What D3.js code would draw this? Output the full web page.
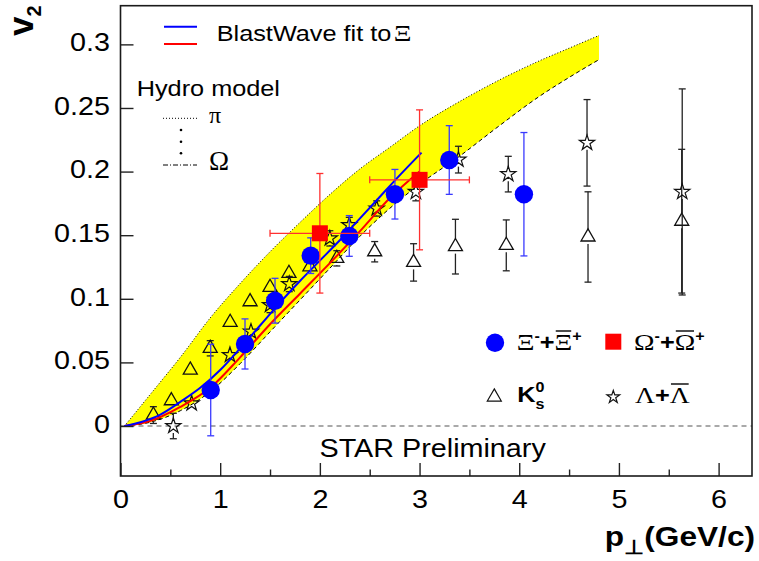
<!DOCTYPE html>
<html>
<head>
<meta charset="utf-8">
<script src="https://cdn.jsdelivr.net/npm/d3@7"></script>
<style>
  body { margin: 0; background: #fff; }
  svg { display: block; }
  text { font-family: "Liberation Sans", Arial, Helvetica, sans-serif; fill: #000; }
  .gr { font-family: "Liberation Serif", "Times New Roman", serif; }
</style>
</head>
<body>
<svg id="chart" width="759" height="561"></svg>
<script>
// hydro model band (pi = upper edge, Omega = lower edge)
const bandPt    = [0.04, 0.3, 0.6, 0.9, 1.2, 1.5, 1.8, 2.1, 2.4, 2.7, 3.0, 3.4, 3.8, 4.2, 4.5, 4.8];
const bandPi    = [0, 0.025, 0.054, 0.085, 0.112, 0.137, 0.160, 0.182, 0.202, 0.219, 0.236, 0.255, 0.272, 0.287, 0.297, 0.307];
const bandOmega = [0, 0.003, 0.012, 0.027, 0.049, 0.074, 0.099, 0.124, 0.149, 0.171, 0.190, 0.212, 0.236, 0.259, 0.274, 0.288];

// blast wave fits
const bwBluePt = [0.04, 0.2, 0.4, 0.6, 0.8, 1.0, 1.2, 1.4, 1.6, 1.8, 2.0, 2.2, 2.4, 2.6, 2.8, 3.02];
const bwBlue   = [0, 0.003, 0.009, 0.019, 0.030, 0.044, 0.061, 0.079, 0.097, 0.114, 0.130, 0.146, 0.163, 0.180, 0.197, 0.2149];
const bwRedPt  = [0.04, 0.3, 0.6, 0.9, 1.2, 1.5, 1.8, 2.1, 2.4, 2.7, 3.0];
const bwRed    = [0, 0.004, 0.015, 0.030, 0.054, 0.080, 0.104, 0.128, 0.153, 0.179, 0.200];

// Xi
const xiPt  = [0.905, 1.249, 1.55, 1.908, 2.295, 2.753, 3.298, 4.047];
const xiV2  = [0.0283, 0.0645, 0.0985, 0.1339, 0.1494, 0.1822, 0.2091, 0.1822];
const xiErr = [0.036, 0.0197, 0.0176, 0.014, 0.016, 0.0195, 0.027, 0.0485];

// Omega
const omPt    = [2.0, 3.0];
const omV2    = [0.1515, 0.1935];
const omErr   = [0.047, 0.055];
const omPtErr = [0.5, 0.5];

// K0s
const k0Pt  = [0.33, 0.51, 0.70, 0.90, 1.10, 1.30, 1.50, 1.69, 1.90, 2.17, 2.55, 2.94, 3.36, 3.87, 4.69, 5.63];
const k0V2  = [0.0086, 0.0199, 0.044, 0.0611, 0.0815, 0.0977, 0.109, 0.12, 0.1252, 0.1318, 0.137, 0.1286, 0.141, 0.142, 0.1486, 0.161];
const k0Err = [0.0066, 0.005, 0.004, 0.006, 0.005, 0.005, 0.005, 0.005, 0.005, 0.006, 0.008, 0.0147, 0.0215, 0.02, 0.0355, 0.0565];

// Lambda
const laPt  = [0.53, 0.714, 1.098, 1.309, 1.50, 1.693, 2.10, 2.295, 2.57, 2.963, 3.39, 3.89, 4.68, 5.635];
const laV2  = [0.0, 0.0178, 0.0558, 0.0742, 0.0951, 0.1116, 0.1475, 0.158, 0.171, 0.184, 0.2094, 0.198, 0.2226, 0.184];
const laErr = [0.01, 0.005, 0.005, 0.005, 0.006, 0.006, 0.006, 0.006, 0.006, 0.007, 0.0105, 0.014, 0.034, 0.081];

const xTicks = [0, 1, 2, 3, 4, 5, 6];
const xMinor = [0.5, 1.5, 2.5, 3.5, 4.5, 5.5];
const yTicks = [0, 0.05, 0.1, 0.15, 0.2, 0.25, 0.3];

const svg = d3.select("#chart");
const x = d3.scaleLinear().domain([0, 6.335]).range([120.5, 752]);
const y = d3.scaleLinear().domain([-0.0393, 0.3304]).range([476, 5.7]);

// text in the picture is a bit wider than the font
const SX = 1.15;
function wide(g, x0) {
  return g.attr("transform", `matrix(${SX},0,0,1,${(1 - SX) * x0},0)`);
}

// band
const area = d3.area()
  .x((d, i) => x(bandPt[i]))
  .y0((d, i) => y(bandOmega[i]))
  .y1((d, i) => y(bandPi[i]))
  .curve(d3.curveMonotoneX);
svg.append("path").datum(bandPt).attr("d", area).attr("fill", "#ffff00");

function curve(px, py) {
  return d3.line().x((d, i) => x(px[i])).y((d, i) => y(py[i])).curve(d3.curveMonotoneX)(px);
}
svg.append("path").attr("d", curve(bandPt, bandPi))
  .attr("fill", "none").attr("stroke", "#000").attr("stroke-width", 1).attr("stroke-dasharray", "1,2");
svg.append("path").attr("d", curve(bandPt, bandOmega))
  .attr("fill", "none").attr("stroke", "#000").attr("stroke-width", 1).attr("stroke-dasharray", "4,3");

// zero line
svg.append("line")
  .attr("x1", x(0)).attr("x2", x(6.335)).attr("y1", y(0)).attr("y2", y(0))
  .attr("stroke", "#555").attr("stroke-width", 1.2).attr("stroke-dasharray", "5,4");

function errBars(px, py, pe, color, gap, cap) {
  const g = svg.append("g").attr("stroke", color).attr("stroke-width", 1.3).attr("fill", "none");
  px.forEach((p, i) => {
    const cx = x(p), cy = y(py[i]), top = y(py[i] + pe[i]), bot = y(py[i] - pe[i]);
    if (cy - top > gap) {
      g.append("line").attr("x1", cx).attr("x2", cx).attr("y1", top).attr("y2", cy - gap);
      g.append("line").attr("x1", cx - cap).attr("x2", cx + cap).attr("y1", top).attr("y2", top);
    }
    if (bot - cy > gap) {
      g.append("line").attr("x1", cx).attr("x2", cx).attr("y1", cy + gap).attr("y2", bot);
      g.append("line").attr("x1", cx - cap).attr("x2", cx + cap).attr("y1", bot).attr("y2", bot);
    }
  });
}

const triPath = d3.symbol().type(d3.symbolTriangle).size(85)();
const starPath = d3.symbol().type(d3.symbolStar).size(72)();

// K0s
errBars(k0Pt, k0V2, k0Err, "#222", 7, 3.5);
svg.append("g").selectAll("path").data(k0Pt).join("path")
  .attr("d", triPath)
  .attr("transform", (d, i) => `translate(${x(d)},${y(k0V2[i])})`)
  .attr("fill", "none").attr("stroke", "#111").attr("stroke-width", 1.3);

// Lambda
errBars(laPt, laV2, laErr, "#222", 7, 3.5);
svg.append("g").selectAll("path").data(laPt).join("path")
  .attr("d", starPath)
  .attr("transform", (d, i) => `translate(${x(d)},${y(laV2[i])})`)
  .attr("fill", "none").attr("stroke", "#111").attr("stroke-width", 1.2);

// blast wave
svg.append("path").attr("d", curve(bwRedPt, bwRed))
  .attr("fill", "none").attr("stroke", "#ff0000").attr("stroke-width", 2);
svg.append("path").attr("d", curve(bwBluePt, bwBlue))
  .attr("fill", "none").attr("stroke", "#0000ff").attr("stroke-width", 2);

// Xi
errBars(xiPt, xiV2, xiErr, "#3a3aff", 0, 3.5);
svg.append("g").selectAll("circle").data(xiPt).join("circle")
  .attr("cx", d => x(d)).attr("cy", (d, i) => y(xiV2[i])).attr("r", 9.2)
  .attr("fill", "#0000ff");

// Omega
errBars(omPt, omV2, omErr, "#ff3030", 0, 3.5);
const hg = svg.append("g").attr("stroke", "#ff3030").attr("stroke-width", 1.3);
omPt.forEach((p, i) => {
  const cy = y(omV2[i]), l = x(p - omPtErr[i]), r = x(p + omPtErr[i]);
  hg.append("line").attr("x1", l).attr("x2", r).attr("y1", cy).attr("y2", cy);
  hg.append("line").attr("x1", l).attr("x2", l).attr("y1", cy - 3.5).attr("y2", cy + 3.5);
  hg.append("line").attr("x1", r).attr("x2", r).attr("y1", cy - 3.5).attr("y2", cy + 3.5);
});
svg.append("g").selectAll("rect").data(omPt).join("rect")
  .attr("x", d => x(d) - 8).attr("y", (d, i) => y(omV2[i]) - 8)
  .attr("width", 16).attr("height", 16).attr("fill", "#ff0000");

// axes
const yAxis = svg.append("g").attr("transform", `translate(${x(0)},0)`)
  .call(d3.axisLeft(y).tickValues(yTicks).tickSize(-13).tickPadding(10.5).tickFormat(d3.format("")));
const xAxis = svg.append("g").attr("transform", `translate(0,${y.range()[0]})`)
  .call(d3.axisBottom(x).tickValues(xTicks).tickSize(-13).tickPadding(14).tickFormat(d3.format("d")));
svg.append("g").attr("transform", `translate(0,${y.range()[0]})`)
  .call(d3.axisBottom(x).tickValues(xMinor).tickSize(-6.5).tickFormat(""));
svg.selectAll(".domain").remove();
svg.selectAll(".tick line").attr("stroke", "#222").attr("stroke-width", 1.4);
[yAxis, xAxis].forEach(a => a.attr("font-size", null).attr("font-family", null));
svg.selectAll(".tick text").attr("font-size", 25).attr("fill", "#000")
  .each(function () {
    const t = d3.select(this);
    const ax = +t.attr("x") || 0;
    t.attr("transform", `matrix(${SX},0,0,1,${(1 - SX) * ax},0)`);
  });
yAxis.selectAll(".tick text").attr("dy", "0.25em");

// frame
svg.append("rect")
  .attr("x", x(0)).attr("y", y.range()[1])
  .attr("width", x.range()[1] - x(0)).attr("height", y.range()[0] - y.range()[1])
  .attr("fill", "none").attr("stroke", "#1a1a1a").attr("stroke-width", 1.6);

// axis titles
const vt = svg.append("text").attr("transform", "translate(33,36) rotate(-90)")
  .attr("font-weight", "bold").attr("font-size", 35);
vt.append("tspan").text("v");
vt.append("tspan").attr("dy", 8).attr("font-size", 20).text("2");

const pt = wide(svg.append("g"), 755).append("text")
  .attr("x", 755).attr("y", 546).attr("text-anchor", "end")
  .attr("font-weight", "bold").attr("font-size", 27.5);
pt.append("tspan").text("p");
pt.append("tspan").attr("dy", 8).attr("font-size", 20).text("⊥");
pt.append("tspan").attr("dy", -8).text("(GeV/c)");

// legend top
svg.append("line").attr("x1", 164).attr("x2", 197).attr("y1", 26.7).attr("y2", 26.7)
  .attr("stroke", "#0000ff").attr("stroke-width", 2);
svg.append("line").attr("x1", 164).attr("x2", 197).attr("y1", 44).attr("y2", 44)
  .attr("stroke", "#ff0000").attr("stroke-width", 2);
const bw = wide(svg.append("g"), 216.7).append("text")
  .attr("x", 216.7).attr("y", 40.7).attr("font-size", 22);
bw.append("tspan").text("BlastWave fit to");
bw.append("tspan").attr("class", "gr").attr("dx", 2).attr("font-size", 24).text("Ξ");

wide(svg.append("g"), 136.7).append("text")
  .attr("x", 136.7).attr("y", 96).attr("font-size", 22).text("Hydro model");
svg.append("line").attr("x1", 163).attr("x2", 197).attr("y1", 118.3).attr("y2", 118.3)
  .attr("stroke", "#000").attr("stroke-width", 1).attr("stroke-dasharray", "1,2");
[130, 141.7, 153.3].forEach(cy => svg.append("circle").attr("cx", 181).attr("cy", cy).attr("r", 1.3).attr("fill", "#000"));
svg.append("line").attr("x1", 163).attr("x2", 197).attr("y1", 165).attr("y2", 165)
  .attr("stroke", "#000").attr("stroke-width", 1).attr("stroke-dasharray", "5,2,1,2");
svg.append("text").attr("class", "gr").attr("x", 209).attr("y", 123).attr("font-size", 24).text("π");
svg.append("text").attr("class", "gr").attr("x", 209).attr("y", 170).attr("font-size", 27).text("Ω");

// STAR Preliminary
wide(svg.append("g"), 319.5).append("text")
  .attr("x", 319.5).attr("y", 457).attr("font-size", 25).text("STAR Preliminary");

// legend bottom
function bar(textSel, idx, yLine) {
  const e = textSel.node().getExtentOfChar(idx);
  d3.select(textSel.node().parentNode).append("line")
    .attr("x1", e.x + 1).attr("x2", e.x + e.width - 1)
    .attr("y1", yLine).attr("y2", yLine)
    .attr("stroke", "#000").attr("stroke-width", 1.4);
}

function particle(x0, base, sym, sup1, sup2) {
  const t = wide(svg.append("g"), x0).append("text").attr("x", x0).attr("y", base).attr("font-size", 22);
  t.append("tspan").attr("class", "gr").attr("font-size", 24).text(sym);
  if (sup1) t.append("tspan").attr("dy", -9).attr("font-size", 14).attr("font-weight", "bold").text(sup1);
  t.append("tspan").attr("dy", sup1 ? 9 : 0).attr("font-weight", "bold").text("+");
  t.append("tspan").attr("class", "gr").attr("font-size", 24).text(sym);
  if (sup2) t.append("tspan").attr("dy", -9).attr("font-size", 14).attr("font-weight", "bold").text(sup2);
  bar(t, sup1 ? 3 : 2, base - 19);
}

svg.append("circle").attr("cx", 495).attr("cy", 342.7).attr("r", 9.2).attr("fill", "#0000ff");
particle(516.7, 350, "Ξ", "-", "+");
svg.append("rect").attr("x", 605.3).attr("y", 333.7).attr("width", 16).attr("height", 16).attr("fill", "#ff0000");
particle(634, 350, "Ω", "-", "+");

svg.append("path").attr("d", triPath).attr("transform", "translate(494.3,397)")
  .attr("fill", "none").attr("stroke", "#111").attr("stroke-width", 1.2);
const kt = wide(svg.append("g"), 517.3).append("text")
  .attr("x", 517.3).attr("y", 402).attr("font-size", 22).attr("font-weight", "bold");
kt.append("tspan").text("K");
kt.append("tspan").attr("dy", -10).attr("font-size", 14).text("0");
kt.append("tspan").attr("dy", 17).attr("dx", -7.8).attr("font-size", 14).text("s");

svg.append("path").attr("d", d3.symbol().type(d3.symbolStar).size(50)()).attr("transform", "translate(613.3,397)")
  .attr("fill", "none").attr("stroke", "#111").attr("stroke-width", 1.2);
particle(635, 403, "Λ", null, null);
</script>
</body>
</html>
